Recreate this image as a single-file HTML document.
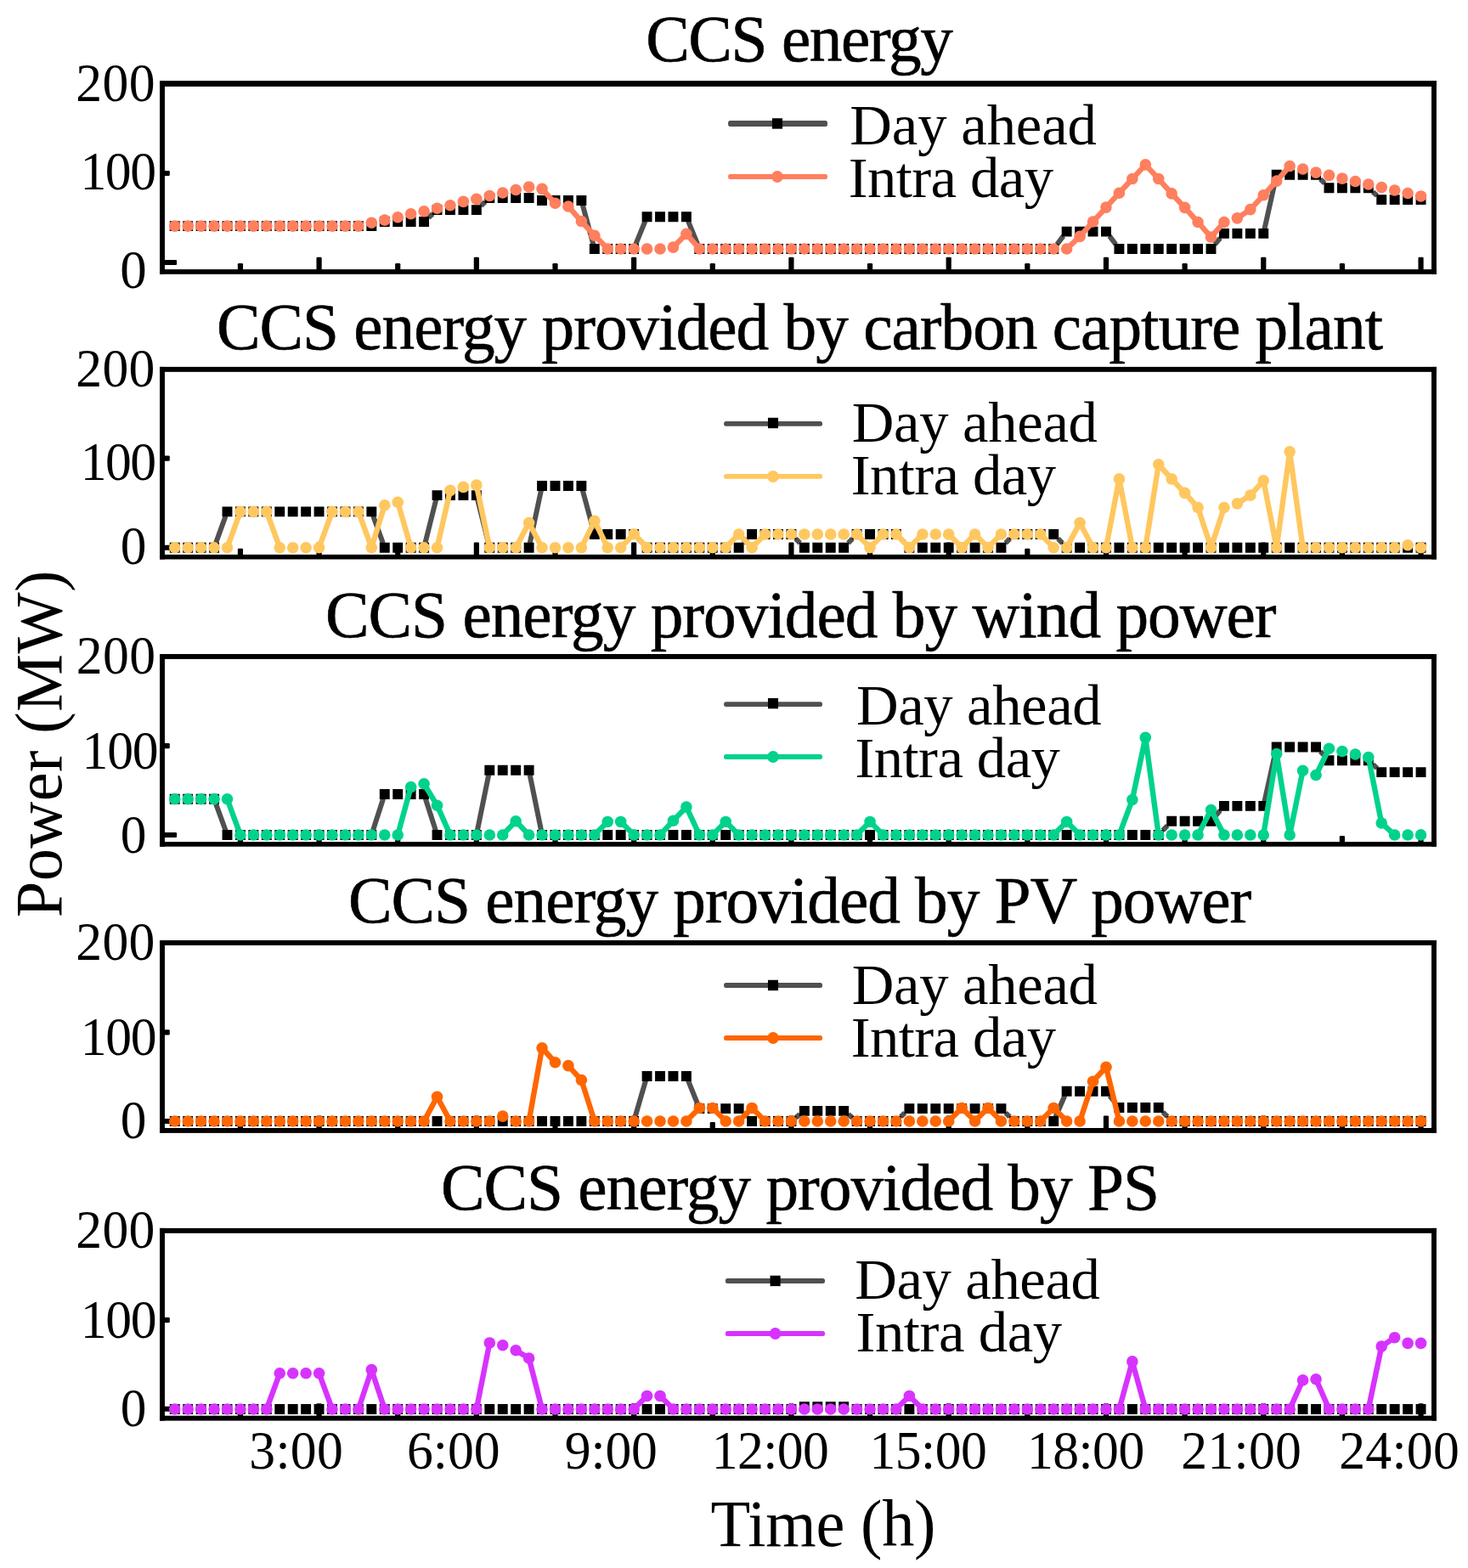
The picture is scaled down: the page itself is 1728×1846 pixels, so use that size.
<!DOCTYPE html>
<html lang="en">
<head>
<meta charset="utf-8">
<title>CCS energy</title>
<style>
html,body{margin:0;padding:0;background:#fff}
body{width:1728px;height:1846px;overflow:hidden}
svg{display:block}
text{font-family:"Liberation Serif",serif;fill:#000}
</style>
</head>
<body>
<svg width="1728" height="1846" viewBox="0 0 1728 1846" role="img" aria-label="CCS energy: day ahead versus intra day">
<rect width="1728" height="1846" fill="#fff"/>
<g>
<g fill="#000"><rect x="279.84" y="310" width="6.2" height="8.1" rx="1.2"/><rect x="372.48" y="302.7" width="6.2" height="15.4" rx="1.2"/><rect x="465.12" y="310" width="6.2" height="8.1" rx="1.2"/><rect x="557.76" y="302.7" width="6.2" height="15.4" rx="1.2"/><rect x="650.4" y="310" width="6.2" height="8.1" rx="1.2"/><rect x="743.04" y="302.7" width="6.2" height="15.4" rx="1.2"/><rect x="835.68" y="310" width="6.2" height="8.1" rx="1.2"/><rect x="928.32" y="302.7" width="6.2" height="15.4" rx="1.2"/><rect x="1020.96" y="310" width="6.2" height="8.1" rx="1.2"/><rect x="1113.6" y="302.7" width="6.2" height="15.4" rx="1.2"/><rect x="1206.24" y="310" width="6.2" height="8.1" rx="1.2"/><rect x="1298.88" y="302.7" width="6.2" height="15.4" rx="1.2"/><rect x="1391.52" y="310" width="6.2" height="8.1" rx="1.2"/><rect x="1484.16" y="302.7" width="6.2" height="15.4" rx="1.2"/><rect x="1576.8" y="310" width="6.2" height="8.1" rx="1.2"/><rect x="1669.44" y="302.7" width="6.2" height="15.4" rx="1.2"/><rect x="192.96" y="305.95" width="15.14" height="6.1" rx="1.2"/><rect x="192.96" y="200.95" width="6.84" height="6.1" rx="1.2"/></g>
<path d="M504.35 256.3L509.29 251.85M566.11 242.33L571.05 237.81M685.8 241.27L698.4 287.71M748.29 287.71L759.43 260.48M810.05 260.48L821.19 287.71M1244.2 287.71L1251.68 277.84M1305.96 277.84L1313.44 287.71M1429.99 287.71L1436.45 280.16M1488.43 269.66L1501.53 210.94M1554.25 210.94L1559.23 215.95M1616.03 225.93L1620.97 230.37" stroke="#505050" stroke-width="6" fill="none"/>
<path d="M199.79 260.16h11.9v11.9h-11.9zM215.23 260.16h11.9v11.9h-11.9zM230.67 260.16h11.9v11.9h-11.9zM246.11 260.16h11.9v11.9h-11.9zM261.55 260.16h11.9v11.9h-11.9zM276.99 260.16h11.9v11.9h-11.9zM292.43 260.16h11.9v11.9h-11.9zM307.87 260.16h11.9v11.9h-11.9zM323.31 260.16h11.9v11.9h-11.9zM338.75 260.16h11.9v11.9h-11.9zM354.19 260.16h11.9v11.9h-11.9zM369.63 260.16h11.9v11.9h-11.9zM385.07 260.16h11.9v11.9h-11.9zM400.51 260.16h11.9v11.9h-11.9zM415.95 260.16h11.9v11.9h-11.9zM431.39 260.16h11.9v11.9h-11.9zM446.83 255.07h11.9v11.9h-11.9zM462.27 255.07h11.9v11.9h-11.9zM477.71 255.07h11.9v11.9h-11.9zM493.15 255.07h11.9v11.9h-11.9zM508.59 241.18h11.9v11.9h-11.9zM524.03 241.18h11.9v11.9h-11.9zM539.47 241.18h11.9v11.9h-11.9zM554.91 241.18h11.9v11.9h-11.9zM570.35 227.06h11.9v11.9h-11.9zM585.79 227.06h11.9v11.9h-11.9zM601.23 227.06h11.9v11.9h-11.9zM616.67 227.06h11.9v11.9h-11.9zM632.11 230.07h11.9v11.9h-11.9zM647.55 230.07h11.9v11.9h-11.9zM662.99 230.07h11.9v11.9h-11.9zM678.43 230.07h11.9v11.9h-11.9zM693.87 287.01h11.9v11.9h-11.9zM709.31 287.01h11.9v11.9h-11.9zM724.75 287.01h11.9v11.9h-11.9zM740.19 287.01h11.9v11.9h-11.9zM755.63 249.28h11.9v11.9h-11.9zM771.07 249.28h11.9v11.9h-11.9zM786.51 249.28h11.9v11.9h-11.9zM801.95 249.28h11.9v11.9h-11.9zM817.39 287.01h11.9v11.9h-11.9zM832.83 287.01h11.9v11.9h-11.9zM848.27 287.01h11.9v11.9h-11.9zM863.71 287.01h11.9v11.9h-11.9zM879.15 287.01h11.9v11.9h-11.9zM894.59 287.01h11.9v11.9h-11.9zM910.03 287.01h11.9v11.9h-11.9zM925.47 287.01h11.9v11.9h-11.9zM940.91 287.01h11.9v11.9h-11.9zM956.35 287.01h11.9v11.9h-11.9zM971.79 287.01h11.9v11.9h-11.9zM987.23 287.01h11.9v11.9h-11.9zM1002.67 287.01h11.9v11.9h-11.9zM1018.11 287.01h11.9v11.9h-11.9zM1033.55 287.01h11.9v11.9h-11.9zM1048.99 287.01h11.9v11.9h-11.9zM1064.43 287.01h11.9v11.9h-11.9zM1079.87 287.01h11.9v11.9h-11.9zM1095.31 287.01h11.9v11.9h-11.9zM1110.75 287.01h11.9v11.9h-11.9zM1126.19 287.01h11.9v11.9h-11.9zM1141.63 287.01h11.9v11.9h-11.9zM1157.07 287.01h11.9v11.9h-11.9zM1172.51 287.01h11.9v11.9h-11.9zM1187.95 287.01h11.9v11.9h-11.9zM1203.39 287.01h11.9v11.9h-11.9zM1218.83 287.01h11.9v11.9h-11.9zM1234.27 287.01h11.9v11.9h-11.9zM1249.71 266.64h11.9v11.9h-11.9zM1265.15 266.64h11.9v11.9h-11.9zM1280.59 266.64h11.9v11.9h-11.9zM1296.03 266.64h11.9v11.9h-11.9zM1311.47 287.01h11.9v11.9h-11.9zM1326.91 287.01h11.9v11.9h-11.9zM1342.35 287.01h11.9v11.9h-11.9zM1357.79 287.01h11.9v11.9h-11.9zM1373.23 287.01h11.9v11.9h-11.9zM1388.67 287.01h11.9v11.9h-11.9zM1404.11 287.01h11.9v11.9h-11.9zM1419.55 287.01h11.9v11.9h-11.9zM1434.99 268.96h11.9v11.9h-11.9zM1450.43 268.96h11.9v11.9h-11.9zM1465.87 268.96h11.9v11.9h-11.9zM1481.31 268.96h11.9v11.9h-11.9zM1496.75 199.74h11.9v11.9h-11.9zM1512.19 199.74h11.9v11.9h-11.9zM1527.63 199.74h11.9v11.9h-11.9zM1543.07 199.74h11.9v11.9h-11.9zM1558.51 215.25h11.9v11.9h-11.9zM1573.95 215.25h11.9v11.9h-11.9zM1589.39 215.25h11.9v11.9h-11.9zM1604.83 215.25h11.9v11.9h-11.9zM1620.27 229.14h11.9v11.9h-11.9zM1635.71 229.14h11.9v11.9h-11.9zM1651.15 229.14h11.9v11.9h-11.9zM1666.59 229.14h11.9v11.9h-11.9z" fill="#000"/>
<path d="M640.76 225.31L650.8 236.31M671.58 245.97L681.74 257.55M687.1 263.49L697.1 274.29M702.62 280.08L712.46 290.11M795.26 288.26L805.1 278.23M810.54 278.38L820.7 289.96M1258.57 290.22L1268.19 281.13M1273.76 275.39L1283.88 264.01M1289.24 258.07L1299.28 247.07M1304.68 241.17L1314.72 230.18M1320.14 224.29L1330.14 213.49M1335.58 207.62L1345.58 196.82M1351.02 196.82L1361.02 207.62M1366.4 213.54L1376.52 224.93M1381.92 230.83L1391.88 241.44M1397.3 247.32L1407.38 258.51M1412.7 264.49L1422.86 276.07M1428.14 276.07L1438.3 264.49M1459.72 254.65L1468.48 248.87M1474.52 243.71L1484.56 232.72M1489.98 226.83L1499.98 216.04M1505.34 210.1L1515.5 198.52" stroke="#FF7F5E" stroke-width="6.4" fill="none"/>
<g fill="#FF7F5E"><circle cx="205.74" cy="266.11" r="6.8"/><circle cx="221.18" cy="266.11" r="6.8"/><circle cx="236.62" cy="266.11" r="6.8"/><circle cx="252.06" cy="266.11" r="6.8"/><circle cx="267.5" cy="266.11" r="6.8"/><circle cx="282.94" cy="266.11" r="6.8"/><circle cx="298.38" cy="266.11" r="6.8"/><circle cx="313.82" cy="266.11" r="6.8"/><circle cx="329.26" cy="266.11" r="6.8"/><circle cx="344.7" cy="266.11" r="6.8"/><circle cx="360.14" cy="266.11" r="6.8"/><circle cx="375.58" cy="266.11" r="6.8"/><circle cx="391.02" cy="266.11" r="6.8"/><circle cx="406.46" cy="266.11" r="6.8"/><circle cx="421.9" cy="266.11" r="6.8"/><circle cx="437.34" cy="262.18" r="6.8"/><circle cx="452.78" cy="259.17" r="6.8"/><circle cx="468.22" cy="255.69" r="6.8"/><circle cx="483.66" cy="251.76" r="6.8"/><circle cx="499.1" cy="248.75" r="6.8"/><circle cx="514.54" cy="245.28" r="6.8"/><circle cx="529.98" cy="241.81" r="6.8"/><circle cx="545.42" cy="237.41" r="6.8"/><circle cx="560.86" cy="234.4" r="6.8"/><circle cx="576.3" cy="230.46" r="6.8"/><circle cx="591.74" cy="226.99" r="6.8"/><circle cx="607.18" cy="223.52" r="6.8"/><circle cx="622.62" cy="220.05" r="6.8"/><circle cx="638.06" cy="222.36" r="6.8"/><circle cx="653.5" cy="239.26" r="6.8"/><circle cx="668.94" cy="242.96" r="6.8"/><circle cx="684.38" cy="260.56" r="6.8"/><circle cx="699.82" cy="277.22" r="6.8"/><circle cx="715.26" cy="292.96" r="6.8"/><circle cx="730.7" cy="292.96" r="6.8"/><circle cx="746.14" cy="292.96" r="6.8"/><circle cx="761.58" cy="292.96" r="6.8"/><circle cx="777.02" cy="292.96" r="6.8"/><circle cx="792.46" cy="291.11" r="6.8"/><circle cx="807.9" cy="275.37" r="6.8"/><circle cx="823.34" cy="292.96" r="6.8"/><circle cx="838.78" cy="292.96" r="6.8"/><circle cx="854.22" cy="292.96" r="6.8"/><circle cx="869.66" cy="292.96" r="6.8"/><circle cx="885.1" cy="292.96" r="6.8"/><circle cx="900.54" cy="292.96" r="6.8"/><circle cx="915.98" cy="292.96" r="6.8"/><circle cx="931.42" cy="292.96" r="6.8"/><circle cx="946.86" cy="292.96" r="6.8"/><circle cx="962.3" cy="292.96" r="6.8"/><circle cx="977.74" cy="292.96" r="6.8"/><circle cx="993.18" cy="292.96" r="6.8"/><circle cx="1008.62" cy="292.96" r="6.8"/><circle cx="1024.06" cy="292.96" r="6.8"/><circle cx="1039.5" cy="292.96" r="6.8"/><circle cx="1054.94" cy="292.96" r="6.8"/><circle cx="1070.38" cy="292.96" r="6.8"/><circle cx="1085.82" cy="292.96" r="6.8"/><circle cx="1101.26" cy="292.96" r="6.8"/><circle cx="1116.7" cy="292.96" r="6.8"/><circle cx="1132.14" cy="292.96" r="6.8"/><circle cx="1147.58" cy="292.96" r="6.8"/><circle cx="1163.02" cy="292.96" r="6.8"/><circle cx="1178.46" cy="292.96" r="6.8"/><circle cx="1193.9" cy="292.96" r="6.8"/><circle cx="1209.34" cy="292.96" r="6.8"/><circle cx="1224.78" cy="292.96" r="6.8"/><circle cx="1240.22" cy="292.96" r="6.8"/><circle cx="1255.66" cy="292.96" r="6.8"/><circle cx="1271.1" cy="278.38" r="6.8"/><circle cx="1286.54" cy="261.02" r="6.8"/><circle cx="1301.98" cy="244.12" r="6.8"/><circle cx="1317.42" cy="227.22" r="6.8"/><circle cx="1332.86" cy="210.56" r="6.8"/><circle cx="1348.3" cy="193.89" r="6.8"/><circle cx="1363.74" cy="210.56" r="6.8"/><circle cx="1379.18" cy="227.92" r="6.8"/><circle cx="1394.62" cy="244.35" r="6.8"/><circle cx="1410.06" cy="261.48" r="6.8"/><circle cx="1425.5" cy="279.07" r="6.8"/><circle cx="1440.94" cy="261.48" r="6.8"/><circle cx="1456.38" cy="256.85" r="6.8"/><circle cx="1471.82" cy="246.67" r="6.8"/><circle cx="1487.26" cy="229.77" r="6.8"/><circle cx="1502.7" cy="213.1" r="6.8"/><circle cx="1518.14" cy="195.51" r="6.8"/><circle cx="1533.58" cy="198.98" r="6.8"/><circle cx="1549.02" cy="203.15" r="6.8"/><circle cx="1564.46" cy="206.39" r="6.8"/><circle cx="1579.9" cy="210.09" r="6.8"/><circle cx="1595.34" cy="213.56" r="6.8"/><circle cx="1610.78" cy="217.04" r="6.8"/><circle cx="1626.22" cy="220.51" r="6.8"/><circle cx="1641.66" cy="223.98" r="6.8"/><circle cx="1657.1" cy="227.45" r="6.8"/><circle cx="1672.54" cy="230.93" r="6.8"/></g>
<g fill="#000"><rect x="188.06" y="95.1" width="1502.84" height="6.8" fill="#000"/><rect x="188.06" y="317.1" width="1502.84" height="5.7" fill="#000"/><rect x="188.06" y="95.1" width="5.9" height="227.7" fill="#000"/><rect x="1685" y="95.1" width="5.9" height="227.7" fill="#000"/></g>
<rect x="857.1" y="142" width="116.9" height="6.9" rx="2.5" fill="#505050"/>
<rect x="908.95" y="139.25" width="12.1" height="12.4" fill="#000"/>
<rect x="857.1" y="205.1" width="116.9" height="5.8" rx="2.5" fill="#FF7F5E"/>
<ellipse cx="915" cy="208" rx="6.8" ry="7" fill="#FF7F5E"/>
<text transform="translate(1000.37 170) scale(1.0150 1)" font-size="67.7" style="letter-spacing:-0.16px">Day ahead</text>
<text transform="translate(998.66 231.8) scale(1.0150 1)" font-size="67.7" style="letter-spacing:-0.56px">Intra day</text>
<text transform="translate(760.13 71.85) scale(0.9900 1)" font-size="78.1" style="letter-spacing:-1.43px;stroke:#000;stroke-width:0.6px;stroke-linejoin:round">CCS energy</text>
<text transform="translate(89.25 118.62) scale(0.9650 1)" font-size="63.9" style="letter-spacing:0.38px">200</text>
<text transform="translate(94.39 222.55) scale(0.9650 1)" font-size="63.9" style="letter-spacing:-1.41px">100</text>
<text transform="translate(141.24 338.6) scale(0.9852 1)" font-size="63.9">0</text>
</g>
<g>
<g fill="#000"><rect x="279.84" y="645.8" width="6.2" height="8.1" rx="1.2"/><rect x="372.48" y="638.5" width="6.2" height="15.4" rx="1.2"/><rect x="465.12" y="645.8" width="6.2" height="8.1" rx="1.2"/><rect x="557.76" y="638.5" width="6.2" height="15.4" rx="1.2"/><rect x="650.4" y="645.8" width="6.2" height="8.1" rx="1.2"/><rect x="743.04" y="638.5" width="6.2" height="15.4" rx="1.2"/><rect x="835.68" y="645.8" width="6.2" height="8.1" rx="1.2"/><rect x="928.32" y="638.5" width="6.2" height="15.4" rx="1.2"/><rect x="1020.96" y="645.8" width="6.2" height="8.1" rx="1.2"/><rect x="1113.6" y="638.5" width="6.2" height="15.4" rx="1.2"/><rect x="1206.24" y="645.8" width="6.2" height="8.1" rx="1.2"/><rect x="1298.88" y="638.5" width="6.2" height="15.4" rx="1.2"/><rect x="1391.52" y="645.8" width="6.2" height="8.1" rx="1.2"/><rect x="1484.16" y="638.5" width="6.2" height="15.4" rx="1.2"/><rect x="1576.8" y="645.8" width="6.2" height="8.1" rx="1.2"/><rect x="1669.44" y="638.5" width="6.2" height="15.4" rx="1.2"/><rect x="192.96" y="641.75" width="15.14" height="6.1" rx="1.2"/><rect x="192.96" y="536.55" width="6.84" height="6.1" rx="1.2"/></g>
<path d="M253.97 639.45L265.59 607.59M439.25 607.59L450.87 639.45M500.42 639.45L513.22 588.38M562.18 588.38L574.98 639.45M623.74 639.45L636.94 577.27M685.8 577.27L698.4 623.71M751.29 634.21L756.43 639.45M874.81 639.45L879.95 634.21M936.57 634.21L941.71 639.45M998.33 639.45L1003.47 634.21M1060.09 634.21L1065.23 639.45M1183.61 639.45L1188.75 634.21M1245.37 634.21L1250.51 639.45" stroke="#505050" stroke-width="6" fill="none"/>
<path d="M199.79 638.75h11.9v11.9h-11.9zM215.23 638.75h11.9v11.9h-11.9zM230.67 638.75h11.9v11.9h-11.9zM246.11 638.75h11.9v11.9h-11.9zM261.55 596.39h11.9v11.9h-11.9zM276.99 596.39h11.9v11.9h-11.9zM292.43 596.39h11.9v11.9h-11.9zM307.87 596.39h11.9v11.9h-11.9zM323.31 596.39h11.9v11.9h-11.9zM338.75 596.39h11.9v11.9h-11.9zM354.19 596.39h11.9v11.9h-11.9zM369.63 596.39h11.9v11.9h-11.9zM385.07 596.39h11.9v11.9h-11.9zM400.51 596.39h11.9v11.9h-11.9zM415.95 596.39h11.9v11.9h-11.9zM431.39 596.39h11.9v11.9h-11.9zM446.83 638.75h11.9v11.9h-11.9zM462.27 638.75h11.9v11.9h-11.9zM477.71 638.75h11.9v11.9h-11.9zM493.15 638.75h11.9v11.9h-11.9zM508.59 577.18h11.9v11.9h-11.9zM524.03 577.18h11.9v11.9h-11.9zM539.47 577.18h11.9v11.9h-11.9zM554.91 577.18h11.9v11.9h-11.9zM570.35 638.75h11.9v11.9h-11.9zM585.79 638.75h11.9v11.9h-11.9zM601.23 638.75h11.9v11.9h-11.9zM616.67 638.75h11.9v11.9h-11.9zM632.11 566.07h11.9v11.9h-11.9zM647.55 566.07h11.9v11.9h-11.9zM662.99 566.07h11.9v11.9h-11.9zM678.43 566.07h11.9v11.9h-11.9zM693.87 623.01h11.9v11.9h-11.9zM709.31 623.01h11.9v11.9h-11.9zM724.75 623.01h11.9v11.9h-11.9zM740.19 623.01h11.9v11.9h-11.9zM755.63 638.75h11.9v11.9h-11.9zM771.07 638.75h11.9v11.9h-11.9zM786.51 638.75h11.9v11.9h-11.9zM801.95 638.75h11.9v11.9h-11.9zM817.39 638.75h11.9v11.9h-11.9zM832.83 638.75h11.9v11.9h-11.9zM848.27 638.75h11.9v11.9h-11.9zM863.71 638.75h11.9v11.9h-11.9zM879.15 623.01h11.9v11.9h-11.9zM894.59 623.01h11.9v11.9h-11.9zM910.03 623.01h11.9v11.9h-11.9zM925.47 623.01h11.9v11.9h-11.9zM940.91 638.75h11.9v11.9h-11.9zM956.35 638.75h11.9v11.9h-11.9zM971.79 638.75h11.9v11.9h-11.9zM987.23 638.75h11.9v11.9h-11.9zM1002.67 623.01h11.9v11.9h-11.9zM1018.11 623.01h11.9v11.9h-11.9zM1033.55 623.01h11.9v11.9h-11.9zM1048.99 623.01h11.9v11.9h-11.9zM1064.43 638.75h11.9v11.9h-11.9zM1079.87 638.75h11.9v11.9h-11.9zM1095.31 638.75h11.9v11.9h-11.9zM1110.75 638.75h11.9v11.9h-11.9zM1126.19 638.75h11.9v11.9h-11.9zM1141.63 638.75h11.9v11.9h-11.9zM1157.07 638.75h11.9v11.9h-11.9zM1172.51 638.75h11.9v11.9h-11.9zM1187.95 623.01h11.9v11.9h-11.9zM1203.39 623.01h11.9v11.9h-11.9zM1218.83 623.01h11.9v11.9h-11.9zM1234.27 623.01h11.9v11.9h-11.9zM1249.71 638.75h11.9v11.9h-11.9zM1265.15 638.75h11.9v11.9h-11.9zM1280.59 638.75h11.9v11.9h-11.9zM1296.03 638.75h11.9v11.9h-11.9zM1311.47 638.75h11.9v11.9h-11.9zM1326.91 638.75h11.9v11.9h-11.9zM1342.35 638.75h11.9v11.9h-11.9zM1357.79 638.75h11.9v11.9h-11.9zM1373.23 638.75h11.9v11.9h-11.9zM1388.67 638.75h11.9v11.9h-11.9zM1404.11 638.75h11.9v11.9h-11.9zM1419.55 638.75h11.9v11.9h-11.9zM1434.99 638.75h11.9v11.9h-11.9zM1450.43 638.75h11.9v11.9h-11.9zM1465.87 638.75h11.9v11.9h-11.9zM1481.31 638.75h11.9v11.9h-11.9zM1496.75 638.75h11.9v11.9h-11.9zM1512.19 638.75h11.9v11.9h-11.9zM1527.63 638.75h11.9v11.9h-11.9zM1543.07 638.75h11.9v11.9h-11.9zM1558.51 638.75h11.9v11.9h-11.9zM1573.95 638.75h11.9v11.9h-11.9zM1589.39 638.75h11.9v11.9h-11.9zM1604.83 638.75h11.9v11.9h-11.9zM1620.27 638.75h11.9v11.9h-11.9zM1635.71 638.75h11.9v11.9h-11.9zM1651.15 638.75h11.9v11.9h-11.9zM1666.59 638.75h11.9v11.9h-11.9z" fill="#000"/>
<path d="M268.87 640.95L281.57 606.1M315.19 606.1L327.89 640.95M376.95 640.95L389.65 606.1M423.27 606.1L435.97 640.95M438.52 640.88L451.6 598.53M469.33 595.07L482.55 640.86M515.43 640.8L529.09 581.24M561.68 575.01L575.48 640.79M609.05 641.17L620.75 619.07M624.49 619.07L636.19 641.17M686.14 641.11L698.06 616.81M701.58 616.81L713.5 641.11M733.48 641.83L743.36 631.61M748.92 631.61L758.8 641.83M857.02 641.85L866.86 631.82M872.46 631.82L882.3 641.85M887.9 641.85L897.74 631.82M1011.42 631.82L1021.26 641.85M1026.86 641.85L1036.7 631.82M1057.74 631.82L1067.58 641.85M1073.18 641.85L1083.02 631.82M1119.5 631.82L1129.34 641.85M1134.94 641.85L1144.78 631.82M1150.38 631.82L1160.22 641.85M1165.82 641.85L1175.66 631.82M1227.58 631.82L1237.42 641.85M1257.53 641.17L1269.23 619.07M1272.97 619.07L1284.67 641.17M1302.73 640.77L1316.67 567.85M1318.17 567.85L1332.11 640.77M1348.92 640.75L1363.12 550.74M1366.42 549.76L1376.5 560.95M1381.92 566.83L1391.88 577.44M1397.3 583.32L1407.38 594.51M1411.3 601.28L1424.26 640.9M1426.74 640.9L1439.7 601.28M1459.76 590.72L1468.44 585.26M1474.48 580.14L1484.6 568.76M1488.03 569.69L1501.93 640.78M1503.24 640.74L1517.6 535.7M1518.68 535.7L1533.04 640.74" stroke="#FFC75F" stroke-width="6.4" fill="none"/>
<g fill="#FFC75F"><circle cx="205.74" cy="644.7" r="6.8"/><circle cx="221.18" cy="644.7" r="6.8"/><circle cx="236.62" cy="644.7" r="6.8"/><circle cx="252.06" cy="644.7" r="6.8"/><circle cx="267.5" cy="644.7" r="6.8"/><circle cx="282.94" cy="602.34" r="6.8"/><circle cx="298.38" cy="602.34" r="6.8"/><circle cx="313.82" cy="602.34" r="6.8"/><circle cx="329.26" cy="644.7" r="6.8"/><circle cx="344.7" cy="644.7" r="6.8"/><circle cx="360.14" cy="644.7" r="6.8"/><circle cx="375.58" cy="644.7" r="6.8"/><circle cx="391.02" cy="602.34" r="6.8"/><circle cx="406.46" cy="602.34" r="6.8"/><circle cx="421.9" cy="602.34" r="6.8"/><circle cx="437.34" cy="644.7" r="6.8"/><circle cx="452.78" cy="594.7" r="6.8"/><circle cx="468.22" cy="591.23" r="6.8"/><circle cx="483.66" cy="644.7" r="6.8"/><circle cx="499.1" cy="644.7" r="6.8"/><circle cx="514.54" cy="644.7" r="6.8"/><circle cx="529.98" cy="577.34" r="6.8"/><circle cx="545.42" cy="573.41" r="6.8"/><circle cx="560.86" cy="571.09" r="6.8"/><circle cx="576.3" cy="644.7" r="6.8"/><circle cx="591.74" cy="644.7" r="6.8"/><circle cx="607.18" cy="644.7" r="6.8"/><circle cx="622.62" cy="615.54" r="6.8"/><circle cx="638.06" cy="644.7" r="6.8"/><circle cx="653.5" cy="644.7" r="6.8"/><circle cx="668.94" cy="644.7" r="6.8"/><circle cx="684.38" cy="644.7" r="6.8"/><circle cx="699.82" cy="613.22" r="6.8"/><circle cx="715.26" cy="644.7" r="6.8"/><circle cx="730.7" cy="644.7" r="6.8"/><circle cx="746.14" cy="628.73" r="6.8"/><circle cx="761.58" cy="644.7" r="6.8"/><circle cx="777.02" cy="644.7" r="6.8"/><circle cx="792.46" cy="644.7" r="6.8"/><circle cx="807.9" cy="644.7" r="6.8"/><circle cx="823.34" cy="644.7" r="6.8"/><circle cx="838.78" cy="644.7" r="6.8"/><circle cx="854.22" cy="644.7" r="6.8"/><circle cx="869.66" cy="628.96" r="6.8"/><circle cx="885.1" cy="644.7" r="6.8"/><circle cx="900.54" cy="628.96" r="6.8"/><circle cx="915.98" cy="628.96" r="6.8"/><circle cx="931.42" cy="628.96" r="6.8"/><circle cx="946.86" cy="628.96" r="6.8"/><circle cx="962.3" cy="628.96" r="6.8"/><circle cx="977.74" cy="628.96" r="6.8"/><circle cx="993.18" cy="628.96" r="6.8"/><circle cx="1008.62" cy="628.96" r="6.8"/><circle cx="1024.06" cy="644.7" r="6.8"/><circle cx="1039.5" cy="628.96" r="6.8"/><circle cx="1054.94" cy="628.96" r="6.8"/><circle cx="1070.38" cy="644.7" r="6.8"/><circle cx="1085.82" cy="628.96" r="6.8"/><circle cx="1101.26" cy="628.96" r="6.8"/><circle cx="1116.7" cy="628.96" r="6.8"/><circle cx="1132.14" cy="644.7" r="6.8"/><circle cx="1147.58" cy="628.96" r="6.8"/><circle cx="1163.02" cy="644.7" r="6.8"/><circle cx="1178.46" cy="628.96" r="6.8"/><circle cx="1193.9" cy="628.96" r="6.8"/><circle cx="1209.34" cy="628.96" r="6.8"/><circle cx="1224.78" cy="628.96" r="6.8"/><circle cx="1240.22" cy="644.7" r="6.8"/><circle cx="1255.66" cy="644.7" r="6.8"/><circle cx="1271.1" cy="615.54" r="6.8"/><circle cx="1286.54" cy="644.7" r="6.8"/><circle cx="1301.98" cy="644.7" r="6.8"/><circle cx="1317.42" cy="563.92" r="6.8"/><circle cx="1332.86" cy="644.7" r="6.8"/><circle cx="1348.3" cy="644.7" r="6.8"/><circle cx="1363.74" cy="546.79" r="6.8"/><circle cx="1379.18" cy="563.92" r="6.8"/><circle cx="1394.62" cy="580.35" r="6.8"/><circle cx="1410.06" cy="597.48" r="6.8"/><circle cx="1425.5" cy="644.7" r="6.8"/><circle cx="1440.94" cy="597.48" r="6.8"/><circle cx="1456.38" cy="592.85" r="6.8"/><circle cx="1471.82" cy="583.13" r="6.8"/><circle cx="1487.26" cy="565.77" r="6.8"/><circle cx="1502.7" cy="644.7" r="6.8"/><circle cx="1518.14" cy="531.74" r="6.8"/><circle cx="1533.58" cy="644.7" r="6.8"/><circle cx="1549.02" cy="644.7" r="6.8"/><circle cx="1564.46" cy="644.7" r="6.8"/><circle cx="1579.9" cy="644.7" r="6.8"/><circle cx="1595.34" cy="644.7" r="6.8"/><circle cx="1610.78" cy="644.7" r="6.8"/><circle cx="1626.22" cy="644.7" r="6.8"/><circle cx="1641.66" cy="644.7" r="6.8"/><circle cx="1657.1" cy="641.69" r="6.8"/><circle cx="1672.54" cy="644.7" r="6.8"/></g>
<g fill="#000"><rect x="188.06" y="431.9" width="1502.84" height="5.95" fill="#000"/><rect x="188.06" y="652.9" width="1502.84" height="5.6" fill="#000"/><rect x="188.06" y="431.9" width="5.9" height="226.6" fill="#000"/><rect x="1685" y="431.9" width="5.9" height="226.6" fill="#000"/></g>
<rect x="852.1" y="496" width="115.9" height="5.8" rx="2.5" fill="#505050"/>
<rect x="903.95" y="491.8" width="12.1" height="12.4" fill="#000"/>
<rect x="852.1" y="558.05" width="115.9" height="5.8" rx="2.5" fill="#FFC75F"/>
<ellipse cx="910" cy="560.95" rx="6.8" ry="7" fill="#FFC75F"/>
<text transform="translate(1002.67 520) scale(1.0150 1)" font-size="67.7" style="letter-spacing:-0.31px">Day ahead</text>
<text transform="translate(1001.66 581.8) scale(1.0150 1)" font-size="67.7" style="letter-spacing:-0.56px">Intra day</text>
<text transform="translate(254.88 410.95) scale(0.9900 1)" font-size="78.1" style="letter-spacing:-1.02px;stroke:#000;stroke-width:0.6px;stroke-linejoin:round">CCS energy provided by carbon capture plant</text>
<text transform="translate(89.35 454.6) scale(0.9650 1)" font-size="63.9" style="letter-spacing:0.22px">200</text>
<text transform="translate(94.69 565.45) scale(0.9650 1)" font-size="63.9" style="letter-spacing:-1.56px">100</text>
<text transform="translate(141.7 664.35) scale(0.9593 1)" font-size="63.9">0</text>
</g>
<g>
<g fill="#000"><rect x="279.84" y="984" width="6.2" height="8.1" rx="1.2"/><rect x="372.48" y="976.7" width="6.2" height="15.4" rx="1.2"/><rect x="465.12" y="984" width="6.2" height="8.1" rx="1.2"/><rect x="557.76" y="976.7" width="6.2" height="15.4" rx="1.2"/><rect x="650.4" y="984" width="6.2" height="8.1" rx="1.2"/><rect x="743.04" y="976.7" width="6.2" height="15.4" rx="1.2"/><rect x="835.68" y="984" width="6.2" height="8.1" rx="1.2"/><rect x="928.32" y="976.7" width="6.2" height="15.4" rx="1.2"/><rect x="1020.96" y="984" width="6.2" height="8.1" rx="1.2"/><rect x="1113.6" y="976.7" width="6.2" height="15.4" rx="1.2"/><rect x="1206.24" y="984" width="6.2" height="8.1" rx="1.2"/><rect x="1298.88" y="976.7" width="6.2" height="15.4" rx="1.2"/><rect x="1391.52" y="984" width="6.2" height="8.1" rx="1.2"/><rect x="1484.16" y="976.7" width="6.2" height="15.4" rx="1.2"/><rect x="1576.8" y="984" width="6.2" height="8.1" rx="1.2"/><rect x="1669.44" y="976.7" width="6.2" height="15.4" rx="1.2"/><rect x="192.96" y="979.95" width="15.14" height="6.1" rx="1.2"/><rect x="192.96" y="875.05" width="6.84" height="6.1" rx="1.2"/></g>
<path d="M253.98 946.06L265.58 977.69M439.03 977.69L451.09 940.27M500.79 940.27L512.85 977.69M561.92 977.69L575.24 912.03M623.68 912.03L637 977.69M1368.74 977.69L1374.18 971.98M1430.05 961.48L1436.39 954.16M1488.43 943.66L1501.53 884.71M1554.17 884.71L1559.31 889.95M1616.03 899.93L1620.97 904.37" stroke="#505050" stroke-width="6" fill="none"/>
<path d="M199.79 934.86h11.9v11.9h-11.9zM215.23 934.86h11.9v11.9h-11.9zM230.67 934.86h11.9v11.9h-11.9zM246.11 934.86h11.9v11.9h-11.9zM261.55 976.99h11.9v11.9h-11.9zM276.99 976.99h11.9v11.9h-11.9zM292.43 976.99h11.9v11.9h-11.9zM307.87 976.99h11.9v11.9h-11.9zM323.31 976.99h11.9v11.9h-11.9zM338.75 976.99h11.9v11.9h-11.9zM354.19 976.99h11.9v11.9h-11.9zM369.63 976.99h11.9v11.9h-11.9zM385.07 976.99h11.9v11.9h-11.9zM400.51 976.99h11.9v11.9h-11.9zM415.95 976.99h11.9v11.9h-11.9zM431.39 976.99h11.9v11.9h-11.9zM446.83 929.07h11.9v11.9h-11.9zM462.27 929.07h11.9v11.9h-11.9zM477.71 929.07h11.9v11.9h-11.9zM493.15 929.07h11.9v11.9h-11.9zM508.59 976.99h11.9v11.9h-11.9zM524.03 976.99h11.9v11.9h-11.9zM539.47 976.99h11.9v11.9h-11.9zM554.91 976.99h11.9v11.9h-11.9zM570.35 900.83h11.9v11.9h-11.9zM585.79 900.83h11.9v11.9h-11.9zM601.23 900.83h11.9v11.9h-11.9zM616.67 900.83h11.9v11.9h-11.9zM632.11 976.99h11.9v11.9h-11.9zM647.55 976.99h11.9v11.9h-11.9zM662.99 976.99h11.9v11.9h-11.9zM678.43 976.99h11.9v11.9h-11.9zM693.87 976.99h11.9v11.9h-11.9zM709.31 976.99h11.9v11.9h-11.9zM724.75 976.99h11.9v11.9h-11.9zM740.19 976.99h11.9v11.9h-11.9zM755.63 976.99h11.9v11.9h-11.9zM771.07 976.99h11.9v11.9h-11.9zM786.51 976.99h11.9v11.9h-11.9zM801.95 976.99h11.9v11.9h-11.9zM817.39 976.99h11.9v11.9h-11.9zM832.83 976.99h11.9v11.9h-11.9zM848.27 976.99h11.9v11.9h-11.9zM863.71 976.99h11.9v11.9h-11.9zM879.15 976.99h11.9v11.9h-11.9zM894.59 976.99h11.9v11.9h-11.9zM910.03 976.99h11.9v11.9h-11.9zM925.47 976.99h11.9v11.9h-11.9zM940.91 976.99h11.9v11.9h-11.9zM956.35 976.99h11.9v11.9h-11.9zM971.79 976.99h11.9v11.9h-11.9zM987.23 976.99h11.9v11.9h-11.9zM1002.67 976.99h11.9v11.9h-11.9zM1018.11 976.99h11.9v11.9h-11.9zM1033.55 976.99h11.9v11.9h-11.9zM1048.99 976.99h11.9v11.9h-11.9zM1064.43 976.99h11.9v11.9h-11.9zM1079.87 976.99h11.9v11.9h-11.9zM1095.31 976.99h11.9v11.9h-11.9zM1110.75 976.99h11.9v11.9h-11.9zM1126.19 976.99h11.9v11.9h-11.9zM1141.63 976.99h11.9v11.9h-11.9zM1157.07 976.99h11.9v11.9h-11.9zM1172.51 976.99h11.9v11.9h-11.9zM1187.95 976.99h11.9v11.9h-11.9zM1203.39 976.99h11.9v11.9h-11.9zM1218.83 976.99h11.9v11.9h-11.9zM1234.27 976.99h11.9v11.9h-11.9zM1249.71 976.99h11.9v11.9h-11.9zM1265.15 976.99h11.9v11.9h-11.9zM1280.59 976.99h11.9v11.9h-11.9zM1296.03 976.99h11.9v11.9h-11.9zM1311.47 976.99h11.9v11.9h-11.9zM1326.91 976.99h11.9v11.9h-11.9zM1342.35 976.99h11.9v11.9h-11.9zM1357.79 976.99h11.9v11.9h-11.9zM1373.23 960.78h11.9v11.9h-11.9zM1388.67 960.78h11.9v11.9h-11.9zM1404.11 960.78h11.9v11.9h-11.9zM1419.55 960.78h11.9v11.9h-11.9zM1434.99 942.96h11.9v11.9h-11.9zM1450.43 942.96h11.9v11.9h-11.9zM1465.87 942.96h11.9v11.9h-11.9zM1481.31 942.96h11.9v11.9h-11.9zM1496.75 873.51h11.9v11.9h-11.9zM1512.19 873.51h11.9v11.9h-11.9zM1527.63 873.51h11.9v11.9h-11.9zM1543.07 873.51h11.9v11.9h-11.9zM1558.51 889.25h11.9v11.9h-11.9zM1573.95 889.25h11.9v11.9h-11.9zM1589.39 889.25h11.9v11.9h-11.9zM1604.83 889.25h11.9v11.9h-11.9zM1620.27 903.14h11.9v11.9h-11.9zM1635.71 903.14h11.9v11.9h-11.9zM1651.15 903.14h11.9v11.9h-11.9zM1666.59 903.14h11.9v11.9h-11.9z" fill="#000"/>
<path d="M268.88 944.56L281.56 979.18M469.27 979.08L482.61 930.31M501.17 926.17L512.47 944.79M516.17 951.87L528.35 979.28M594.5 980.04L604.42 969.63M609.94 969.63L619.86 980.04M702.64 980.1L712.44 970.26M733.52 970.26L743.32 980.1M779.74 980L789.74 969.2M795.22 963.37L805.14 952.96M809.6 953.69L821.64 979.31M841.6 980.1L851.4 970.26M857.04 970.26L866.84 980.1M1011.44 980.1L1021.24 970.26M1026.88 970.26L1036.68 980.1M1243.04 980.1L1252.84 970.26M1258.48 970.26L1268.28 980.1M1318.82 979.19L1331.46 945.25M1333.69 937.59L1347.47 872.27M1348.83 872.32L1363.21 978.97M1411.92 979.39L1423.64 957.08M1427.36 957.08L1439.08 979.39M1487.9 978.99L1502.06 891.51M1503.34 891.51L1517.5 978.99M1518.94 979.02L1532.78 911.16M1550.79 908.98L1562.69 884.9M1611.56 895.42L1625.44 965.12M1629.19 971.72L1638.69 980.26" stroke="#00D28C" stroke-width="6.4" fill="none"/>
<g fill="#00D28C"><circle cx="205.74" cy="940.81" r="6.8"/><circle cx="221.18" cy="940.81" r="6.8"/><circle cx="236.62" cy="940.81" r="6.8"/><circle cx="252.06" cy="940.81" r="6.8"/><circle cx="267.5" cy="940.81" r="6.8"/><circle cx="282.94" cy="982.94" r="6.8"/><circle cx="298.38" cy="982.94" r="6.8"/><circle cx="313.82" cy="982.94" r="6.8"/><circle cx="329.26" cy="982.94" r="6.8"/><circle cx="344.7" cy="982.94" r="6.8"/><circle cx="360.14" cy="982.94" r="6.8"/><circle cx="375.58" cy="982.94" r="6.8"/><circle cx="391.02" cy="982.94" r="6.8"/><circle cx="406.46" cy="982.94" r="6.8"/><circle cx="421.9" cy="982.94" r="6.8"/><circle cx="437.34" cy="982.94" r="6.8"/><circle cx="452.78" cy="982.94" r="6.8"/><circle cx="468.22" cy="982.94" r="6.8"/><circle cx="483.66" cy="926.45" r="6.8"/><circle cx="499.1" cy="922.75" r="6.8"/><circle cx="514.54" cy="948.21" r="6.8"/><circle cx="529.98" cy="982.94" r="6.8"/><circle cx="545.42" cy="982.94" r="6.8"/><circle cx="560.86" cy="982.94" r="6.8"/><circle cx="576.3" cy="982.94" r="6.8"/><circle cx="591.74" cy="982.94" r="6.8"/><circle cx="607.18" cy="966.73" r="6.8"/><circle cx="622.62" cy="982.94" r="6.8"/><circle cx="638.06" cy="982.94" r="6.8"/><circle cx="653.5" cy="982.94" r="6.8"/><circle cx="668.94" cy="982.94" r="6.8"/><circle cx="684.38" cy="982.94" r="6.8"/><circle cx="699.82" cy="982.94" r="6.8"/><circle cx="715.26" cy="967.43" r="6.8"/><circle cx="730.7" cy="967.43" r="6.8"/><circle cx="746.14" cy="982.94" r="6.8"/><circle cx="761.58" cy="982.94" r="6.8"/><circle cx="777.02" cy="982.94" r="6.8"/><circle cx="792.46" cy="966.27" r="6.8"/><circle cx="807.9" cy="950.06" r="6.8"/><circle cx="823.34" cy="982.94" r="6.8"/><circle cx="838.78" cy="982.94" r="6.8"/><circle cx="854.22" cy="967.43" r="6.8"/><circle cx="869.66" cy="982.94" r="6.8"/><circle cx="885.1" cy="982.94" r="6.8"/><circle cx="900.54" cy="982.94" r="6.8"/><circle cx="915.98" cy="982.94" r="6.8"/><circle cx="931.42" cy="982.94" r="6.8"/><circle cx="946.86" cy="982.94" r="6.8"/><circle cx="962.3" cy="982.94" r="6.8"/><circle cx="977.74" cy="982.94" r="6.8"/><circle cx="993.18" cy="982.94" r="6.8"/><circle cx="1008.62" cy="982.94" r="6.8"/><circle cx="1024.06" cy="967.43" r="6.8"/><circle cx="1039.5" cy="982.94" r="6.8"/><circle cx="1054.94" cy="982.94" r="6.8"/><circle cx="1070.38" cy="982.94" r="6.8"/><circle cx="1085.82" cy="982.94" r="6.8"/><circle cx="1101.26" cy="982.94" r="6.8"/><circle cx="1116.7" cy="982.94" r="6.8"/><circle cx="1132.14" cy="982.94" r="6.8"/><circle cx="1147.58" cy="982.94" r="6.8"/><circle cx="1163.02" cy="982.94" r="6.8"/><circle cx="1178.46" cy="982.94" r="6.8"/><circle cx="1193.9" cy="982.94" r="6.8"/><circle cx="1209.34" cy="982.94" r="6.8"/><circle cx="1224.78" cy="982.94" r="6.8"/><circle cx="1240.22" cy="982.94" r="6.8"/><circle cx="1255.66" cy="967.43" r="6.8"/><circle cx="1271.1" cy="982.94" r="6.8"/><circle cx="1286.54" cy="982.94" r="6.8"/><circle cx="1301.98" cy="982.94" r="6.8"/><circle cx="1317.42" cy="982.94" r="6.8"/><circle cx="1332.86" cy="941.5" r="6.8"/><circle cx="1348.3" cy="868.35" r="6.8"/><circle cx="1363.74" cy="982.94" r="6.8"/><circle cx="1379.18" cy="982.94" r="6.8"/><circle cx="1394.62" cy="982.94" r="6.8"/><circle cx="1410.06" cy="982.94" r="6.8"/><circle cx="1425.5" cy="953.54" r="6.8"/><circle cx="1440.94" cy="982.94" r="6.8"/><circle cx="1456.38" cy="982.94" r="6.8"/><circle cx="1471.82" cy="982.94" r="6.8"/><circle cx="1487.26" cy="982.94" r="6.8"/><circle cx="1502.7" cy="887.56" r="6.8"/><circle cx="1518.14" cy="982.94" r="6.8"/><circle cx="1533.58" cy="907.24" r="6.8"/><circle cx="1549.02" cy="912.56" r="6.8"/><circle cx="1564.46" cy="881.31" r="6.8"/><circle cx="1579.9" cy="884.56" r="6.8"/><circle cx="1595.34" cy="888.03" r="6.8"/><circle cx="1610.78" cy="891.5" r="6.8"/><circle cx="1626.22" cy="969.05" r="6.8"/><circle cx="1641.66" cy="982.94" r="6.8"/><circle cx="1657.1" cy="982.94" r="6.8"/><circle cx="1672.54" cy="982.94" r="6.8"/></g>
<g fill="#000"><rect x="188.06" y="770" width="1502.84" height="5.9" fill="#000"/><rect x="188.06" y="991.1" width="1502.84" height="5.6" fill="#000"/><rect x="188.06" y="770" width="5.9" height="226.7" fill="#000"/><rect x="1685" y="770" width="5.9" height="226.7" fill="#000"/></g>
<rect x="852.1" y="826.15" width="115.9" height="5.8" rx="2.5" fill="#505050"/>
<rect x="903.95" y="821.9" width="12.1" height="12.4" fill="#000"/>
<rect x="852.1" y="888" width="115.9" height="6" rx="2.5" fill="#00D28C"/>
<ellipse cx="910" cy="891" rx="6.8" ry="7" fill="#00D28C"/>
<text transform="translate(1007.97 852.9) scale(1.0150 1)" font-size="67.7" style="letter-spacing:-0.38px">Day ahead</text>
<text transform="translate(1006.56 914.7) scale(1.0150 1)" font-size="67.7" style="letter-spacing:-0.58px">Intra day</text>
<text transform="translate(382.93 750.15) scale(0.9900 1)" font-size="78.1" style="letter-spacing:-1.01px;stroke:#000;stroke-width:0.6px;stroke-linejoin:round">CCS energy provided by wind power</text>
<text transform="translate(89.65 793.45) scale(0.9650 1)" font-size="63.9" style="letter-spacing:0.43px">200</text>
<text transform="translate(96.59 904.55) scale(0.9650 1)" font-size="63.9" style="letter-spacing:-1.31px">100</text>
<text transform="translate(141.7 1003.5) scale(0.9593 1)" font-size="63.9">0</text>
</g>
<g>
<g fill="#000"><rect x="279.84" y="1320.9" width="6.2" height="8.1" rx="1.2"/><rect x="372.48" y="1313.6" width="6.2" height="15.4" rx="1.2"/><rect x="465.12" y="1320.9" width="6.2" height="8.1" rx="1.2"/><rect x="557.76" y="1313.6" width="6.2" height="15.4" rx="1.2"/><rect x="650.4" y="1320.9" width="6.2" height="8.1" rx="1.2"/><rect x="743.04" y="1313.6" width="6.2" height="15.4" rx="1.2"/><rect x="835.68" y="1320.9" width="6.2" height="8.1" rx="1.2"/><rect x="928.32" y="1313.6" width="6.2" height="15.4" rx="1.2"/><rect x="1020.96" y="1320.9" width="6.2" height="8.1" rx="1.2"/><rect x="1113.6" y="1313.6" width="6.2" height="15.4" rx="1.2"/><rect x="1206.24" y="1320.9" width="6.2" height="8.1" rx="1.2"/><rect x="1298.88" y="1313.6" width="6.2" height="15.4" rx="1.2"/><rect x="1391.52" y="1320.9" width="6.2" height="8.1" rx="1.2"/><rect x="1484.16" y="1313.6" width="6.2" height="15.4" rx="1.2"/><rect x="1576.8" y="1320.9" width="6.2" height="8.1" rx="1.2"/><rect x="1669.44" y="1313.6" width="6.2" height="15.4" rx="1.2"/><rect x="192.96" y="1316.95" width="15.14" height="6.1" rx="1.2"/><rect x="192.96" y="1212.35" width="6.84" height="6.1" rx="1.2"/></g>
<path d="M747.67 1314.69L760.05 1272.18M810.02 1272.18L821.22 1299.87M874.91 1310.16L879.85 1314.9M936.67 1315.84L941.61 1311.99M998.43 1311.99L1003.37 1315.84M1060.19 1314.9L1065.13 1310.16M1183.71 1310.16L1188.65 1314.9M1242.52 1314.69L1253.36 1290M1306.2 1290L1313.2 1298.71M1368.82 1309.21L1374.1 1314.69" stroke="#505050" stroke-width="6" fill="none"/>
<path d="M199.79 1313.99h11.9v11.9h-11.9zM215.23 1313.99h11.9v11.9h-11.9zM230.67 1313.99h11.9v11.9h-11.9zM246.11 1313.99h11.9v11.9h-11.9zM261.55 1313.99h11.9v11.9h-11.9zM276.99 1313.99h11.9v11.9h-11.9zM292.43 1313.99h11.9v11.9h-11.9zM307.87 1313.99h11.9v11.9h-11.9zM323.31 1313.99h11.9v11.9h-11.9zM338.75 1313.99h11.9v11.9h-11.9zM354.19 1313.99h11.9v11.9h-11.9zM369.63 1313.99h11.9v11.9h-11.9zM385.07 1313.99h11.9v11.9h-11.9zM400.51 1313.99h11.9v11.9h-11.9zM415.95 1313.99h11.9v11.9h-11.9zM431.39 1313.99h11.9v11.9h-11.9zM446.83 1313.99h11.9v11.9h-11.9zM462.27 1313.99h11.9v11.9h-11.9zM477.71 1313.99h11.9v11.9h-11.9zM493.15 1313.99h11.9v11.9h-11.9zM508.59 1313.99h11.9v11.9h-11.9zM524.03 1313.99h11.9v11.9h-11.9zM539.47 1313.99h11.9v11.9h-11.9zM554.91 1313.99h11.9v11.9h-11.9zM570.35 1313.99h11.9v11.9h-11.9zM585.79 1313.99h11.9v11.9h-11.9zM601.23 1313.99h11.9v11.9h-11.9zM616.67 1313.99h11.9v11.9h-11.9zM632.11 1313.99h11.9v11.9h-11.9zM647.55 1313.99h11.9v11.9h-11.9zM662.99 1313.99h11.9v11.9h-11.9zM678.43 1313.99h11.9v11.9h-11.9zM693.87 1313.99h11.9v11.9h-11.9zM709.31 1313.99h11.9v11.9h-11.9zM724.75 1313.99h11.9v11.9h-11.9zM740.19 1313.99h11.9v11.9h-11.9zM755.63 1260.98h11.9v11.9h-11.9zM771.07 1260.98h11.9v11.9h-11.9zM786.51 1260.98h11.9v11.9h-11.9zM801.95 1260.98h11.9v11.9h-11.9zM817.39 1299.17h11.9v11.9h-11.9zM832.83 1299.17h11.9v11.9h-11.9zM848.27 1299.17h11.9v11.9h-11.9zM863.71 1299.17h11.9v11.9h-11.9zM879.15 1313.99h11.9v11.9h-11.9zM894.59 1313.99h11.9v11.9h-11.9zM910.03 1313.99h11.9v11.9h-11.9zM925.47 1313.99h11.9v11.9h-11.9zM940.91 1301.95h11.9v11.9h-11.9zM956.35 1301.95h11.9v11.9h-11.9zM971.79 1301.95h11.9v11.9h-11.9zM987.23 1301.95h11.9v11.9h-11.9zM1002.67 1313.99h11.9v11.9h-11.9zM1018.11 1313.99h11.9v11.9h-11.9zM1033.55 1313.99h11.9v11.9h-11.9zM1048.99 1313.99h11.9v11.9h-11.9zM1064.43 1299.17h11.9v11.9h-11.9zM1079.87 1299.17h11.9v11.9h-11.9zM1095.31 1299.17h11.9v11.9h-11.9zM1110.75 1299.17h11.9v11.9h-11.9zM1126.19 1299.17h11.9v11.9h-11.9zM1141.63 1299.17h11.9v11.9h-11.9zM1157.07 1299.17h11.9v11.9h-11.9zM1172.51 1299.17h11.9v11.9h-11.9zM1187.95 1313.99h11.9v11.9h-11.9zM1203.39 1313.99h11.9v11.9h-11.9zM1218.83 1313.99h11.9v11.9h-11.9zM1234.27 1313.99h11.9v11.9h-11.9zM1249.71 1278.8h11.9v11.9h-11.9zM1265.15 1278.8h11.9v11.9h-11.9zM1280.59 1278.8h11.9v11.9h-11.9zM1296.03 1278.8h11.9v11.9h-11.9zM1311.47 1298.01h11.9v11.9h-11.9zM1326.91 1298.01h11.9v11.9h-11.9zM1342.35 1298.01h11.9v11.9h-11.9zM1357.79 1298.01h11.9v11.9h-11.9zM1373.23 1313.99h11.9v11.9h-11.9zM1388.67 1313.99h11.9v11.9h-11.9zM1404.11 1313.99h11.9v11.9h-11.9zM1419.55 1313.99h11.9v11.9h-11.9zM1434.99 1313.99h11.9v11.9h-11.9zM1450.43 1313.99h11.9v11.9h-11.9zM1465.87 1313.99h11.9v11.9h-11.9zM1481.31 1313.99h11.9v11.9h-11.9zM1496.75 1313.99h11.9v11.9h-11.9zM1512.19 1313.99h11.9v11.9h-11.9zM1527.63 1313.99h11.9v11.9h-11.9zM1543.07 1313.99h11.9v11.9h-11.9zM1558.51 1313.99h11.9v11.9h-11.9zM1573.95 1313.99h11.9v11.9h-11.9zM1589.39 1313.99h11.9v11.9h-11.9zM1604.83 1313.99h11.9v11.9h-11.9zM1620.27 1313.99h11.9v11.9h-11.9zM1635.71 1313.99h11.9v11.9h-11.9zM1651.15 1313.99h11.9v11.9h-11.9zM1666.59 1313.99h11.9v11.9h-11.9z" fill="#000"/>
<path d="M500.99 1316.41L512.65 1294.75M516.43 1294.75L528.09 1316.41M623.33 1316L637.35 1237.76M640.76 1236.78L650.8 1247.77M671.64 1257.61L681.68 1268.6M685.6 1275.37L698.6 1316.12M810.72 1317.1L820.52 1307.26M841.6 1307.26L851.4 1317.1M872.48 1317.1L882.28 1307.26M887.92 1307.26L897.72 1317.1M1119.52 1317.1L1129.32 1307.26M1134.96 1307.26L1144.76 1317.1M1150.4 1317.1L1160.2 1307.26M1165.84 1307.26L1175.64 1317.1M1227.6 1317.1L1237.4 1307.26M1243.04 1307.26L1252.84 1317.1M1272.35 1316.14L1285.29 1276.97M1289.24 1270.22L1299.28 1259.23M1302.92 1260.17L1316.48 1316.05" stroke="#FF6600" stroke-width="6.4" fill="none"/>
<g fill="#FF6600"><circle cx="205.74" cy="1319.94" r="6.8"/><circle cx="221.18" cy="1319.94" r="6.8"/><circle cx="236.62" cy="1319.94" r="6.8"/><circle cx="252.06" cy="1319.94" r="6.8"/><circle cx="267.5" cy="1319.94" r="6.8"/><circle cx="282.94" cy="1319.94" r="6.8"/><circle cx="298.38" cy="1319.94" r="6.8"/><circle cx="313.82" cy="1319.94" r="6.8"/><circle cx="329.26" cy="1319.94" r="6.8"/><circle cx="344.7" cy="1319.94" r="6.8"/><circle cx="360.14" cy="1319.94" r="6.8"/><circle cx="375.58" cy="1319.94" r="6.8"/><circle cx="391.02" cy="1319.94" r="6.8"/><circle cx="406.46" cy="1319.94" r="6.8"/><circle cx="421.9" cy="1319.94" r="6.8"/><circle cx="437.34" cy="1319.94" r="6.8"/><circle cx="452.78" cy="1319.94" r="6.8"/><circle cx="468.22" cy="1319.94" r="6.8"/><circle cx="483.66" cy="1319.94" r="6.8"/><circle cx="499.1" cy="1319.94" r="6.8"/><circle cx="514.54" cy="1291.23" r="6.8"/><circle cx="529.98" cy="1319.94" r="6.8"/><circle cx="545.42" cy="1319.94" r="6.8"/><circle cx="560.86" cy="1319.94" r="6.8"/><circle cx="576.3" cy="1319.94" r="6.8"/><circle cx="591.74" cy="1314.15" r="6.8"/><circle cx="607.18" cy="1319.94" r="6.8"/><circle cx="622.62" cy="1319.94" r="6.8"/><circle cx="638.06" cy="1233.82" r="6.8"/><circle cx="653.5" cy="1250.72" r="6.8"/><circle cx="668.94" cy="1254.66" r="6.8"/><circle cx="684.38" cy="1271.56" r="6.8"/><circle cx="699.82" cy="1319.94" r="6.8"/><circle cx="715.26" cy="1319.94" r="6.8"/><circle cx="730.7" cy="1319.94" r="6.8"/><circle cx="746.14" cy="1319.94" r="6.8"/><circle cx="761.58" cy="1319.94" r="6.8"/><circle cx="777.02" cy="1319.94" r="6.8"/><circle cx="792.46" cy="1319.94" r="6.8"/><circle cx="807.9" cy="1319.94" r="6.8"/><circle cx="823.34" cy="1304.43" r="6.8"/><circle cx="838.78" cy="1304.43" r="6.8"/><circle cx="854.22" cy="1319.94" r="6.8"/><circle cx="869.66" cy="1319.94" r="6.8"/><circle cx="885.1" cy="1304.43" r="6.8"/><circle cx="900.54" cy="1319.94" r="6.8"/><circle cx="915.98" cy="1319.94" r="6.8"/><circle cx="931.42" cy="1319.94" r="6.8"/><circle cx="946.86" cy="1319.94" r="6.8"/><circle cx="962.3" cy="1319.94" r="6.8"/><circle cx="977.74" cy="1319.94" r="6.8"/><circle cx="993.18" cy="1319.94" r="6.8"/><circle cx="1008.62" cy="1319.94" r="6.8"/><circle cx="1024.06" cy="1319.94" r="6.8"/><circle cx="1039.5" cy="1319.94" r="6.8"/><circle cx="1054.94" cy="1319.94" r="6.8"/><circle cx="1070.38" cy="1319.94" r="6.8"/><circle cx="1085.82" cy="1319.94" r="6.8"/><circle cx="1101.26" cy="1319.94" r="6.8"/><circle cx="1116.7" cy="1319.94" r="6.8"/><circle cx="1132.14" cy="1304.43" r="6.8"/><circle cx="1147.58" cy="1319.94" r="6.8"/><circle cx="1163.02" cy="1304.43" r="6.8"/><circle cx="1178.46" cy="1319.94" r="6.8"/><circle cx="1193.9" cy="1319.94" r="6.8"/><circle cx="1209.34" cy="1319.94" r="6.8"/><circle cx="1224.78" cy="1319.94" r="6.8"/><circle cx="1240.22" cy="1304.43" r="6.8"/><circle cx="1255.66" cy="1319.94" r="6.8"/><circle cx="1271.1" cy="1319.94" r="6.8"/><circle cx="1286.54" cy="1273.18" r="6.8"/><circle cx="1301.98" cy="1256.28" r="6.8"/><circle cx="1317.42" cy="1319.94" r="6.8"/><circle cx="1332.86" cy="1319.94" r="6.8"/><circle cx="1348.3" cy="1319.94" r="6.8"/><circle cx="1363.74" cy="1319.94" r="6.8"/><circle cx="1379.18" cy="1319.94" r="6.8"/><circle cx="1394.62" cy="1319.94" r="6.8"/><circle cx="1410.06" cy="1319.94" r="6.8"/><circle cx="1425.5" cy="1319.94" r="6.8"/><circle cx="1440.94" cy="1319.94" r="6.8"/><circle cx="1456.38" cy="1319.94" r="6.8"/><circle cx="1471.82" cy="1319.94" r="6.8"/><circle cx="1487.26" cy="1319.94" r="6.8"/><circle cx="1502.7" cy="1319.94" r="6.8"/><circle cx="1518.14" cy="1319.94" r="6.8"/><circle cx="1533.58" cy="1319.94" r="6.8"/><circle cx="1549.02" cy="1319.94" r="6.8"/><circle cx="1564.46" cy="1319.94" r="6.8"/><circle cx="1579.9" cy="1319.94" r="6.8"/><circle cx="1595.34" cy="1319.94" r="6.8"/><circle cx="1610.78" cy="1319.94" r="6.8"/><circle cx="1626.22" cy="1319.94" r="6.8"/><circle cx="1641.66" cy="1319.94" r="6.8"/><circle cx="1657.1" cy="1319.94" r="6.8"/><circle cx="1672.54" cy="1319.94" r="6.8"/></g>
<g fill="#000"><rect x="188.06" y="1107" width="1502.84" height="5.9" fill="#000"/><rect x="188.06" y="1328" width="1502.84" height="5.9" fill="#000"/><rect x="188.06" y="1107" width="5.9" height="226.9" fill="#000"/><rect x="1685" y="1107" width="5.9" height="226.9" fill="#000"/></g>
<rect x="852.1" y="1157" width="115.9" height="5.9" rx="2.5" fill="#505050"/>
<rect x="903.95" y="1153.75" width="12.1" height="12.4" fill="#000"/>
<rect x="852.1" y="1219" width="115.9" height="5.9" rx="2.5" fill="#FF6600"/>
<ellipse cx="910" cy="1221.95" rx="6.8" ry="7" fill="#FF6600"/>
<text transform="translate(1002.67 1182) scale(1.0150 1)" font-size="67.7" style="letter-spacing:-0.31px">Day ahead</text>
<text transform="translate(1001.66 1243.8) scale(1.0150 1)" font-size="67.7" style="letter-spacing:-0.56px">Intra day</text>
<text transform="translate(409.99 1085.95) scale(0.9900 1)" font-size="78.1" style="letter-spacing:-1.05px;stroke:#000;stroke-width:0.6px;stroke-linejoin:round">CCS energy provided by PV power</text>
<text transform="translate(89.35 1129.8) scale(0.9650 1)" font-size="63.9" style="letter-spacing:0.22px">200</text>
<text transform="translate(94.69 1241.5) scale(0.9650 1)" font-size="63.9" style="letter-spacing:-1.31px">100</text>
<text transform="translate(141.7 1340.3) scale(0.9593 1)" font-size="63.9">0</text>
</g>
<g>
<g fill="#000"><rect x="279.84" y="1659.6" width="6.2" height="8.1" rx="1.2"/><rect x="372.48" y="1652.3" width="6.2" height="15.4" rx="1.2"/><rect x="465.12" y="1659.6" width="6.2" height="8.1" rx="1.2"/><rect x="557.76" y="1652.3" width="6.2" height="15.4" rx="1.2"/><rect x="650.4" y="1659.6" width="6.2" height="8.1" rx="1.2"/><rect x="743.04" y="1652.3" width="6.2" height="15.4" rx="1.2"/><rect x="835.68" y="1659.6" width="6.2" height="8.1" rx="1.2"/><rect x="928.32" y="1652.3" width="6.2" height="15.4" rx="1.2"/><rect x="1020.96" y="1659.6" width="6.2" height="8.1" rx="1.2"/><rect x="1113.6" y="1652.3" width="6.2" height="15.4" rx="1.2"/><rect x="1206.24" y="1659.6" width="6.2" height="8.1" rx="1.2"/><rect x="1298.88" y="1652.3" width="6.2" height="15.4" rx="1.2"/><rect x="1391.52" y="1659.6" width="6.2" height="8.1" rx="1.2"/><rect x="1484.16" y="1652.3" width="6.2" height="15.4" rx="1.2"/><rect x="1576.8" y="1659.6" width="6.2" height="8.1" rx="1.2"/><rect x="1669.44" y="1652.3" width="6.2" height="15.4" rx="1.2"/><rect x="192.96" y="1655.65" width="15.14" height="6.1" rx="1.2"/><rect x="192.96" y="1551.05" width="6.84" height="6.1" rx="1.2"/></g>
<path d="" stroke="#505050" stroke-width="6" fill="none"/>
<path d="M199.79 1652.99h11.9v11.9h-11.9zM215.23 1652.99h11.9v11.9h-11.9zM230.67 1652.99h11.9v11.9h-11.9zM246.11 1652.99h11.9v11.9h-11.9zM261.55 1652.99h11.9v11.9h-11.9zM276.99 1652.99h11.9v11.9h-11.9zM292.43 1652.99h11.9v11.9h-11.9zM307.87 1652.99h11.9v11.9h-11.9zM323.31 1652.99h11.9v11.9h-11.9zM338.75 1652.99h11.9v11.9h-11.9zM354.19 1652.99h11.9v11.9h-11.9zM369.63 1652.99h11.9v11.9h-11.9zM385.07 1652.99h11.9v11.9h-11.9zM400.51 1652.99h11.9v11.9h-11.9zM415.95 1652.99h11.9v11.9h-11.9zM431.39 1652.99h11.9v11.9h-11.9zM446.83 1652.99h11.9v11.9h-11.9zM462.27 1652.99h11.9v11.9h-11.9zM477.71 1652.99h11.9v11.9h-11.9zM493.15 1652.99h11.9v11.9h-11.9zM508.59 1652.99h11.9v11.9h-11.9zM524.03 1652.99h11.9v11.9h-11.9zM539.47 1652.99h11.9v11.9h-11.9zM554.91 1652.99h11.9v11.9h-11.9zM570.35 1652.99h11.9v11.9h-11.9zM585.79 1652.99h11.9v11.9h-11.9zM601.23 1652.99h11.9v11.9h-11.9zM616.67 1652.99h11.9v11.9h-11.9zM632.11 1652.99h11.9v11.9h-11.9zM647.55 1652.99h11.9v11.9h-11.9zM662.99 1652.99h11.9v11.9h-11.9zM678.43 1652.99h11.9v11.9h-11.9zM693.87 1652.99h11.9v11.9h-11.9zM709.31 1652.99h11.9v11.9h-11.9zM724.75 1652.99h11.9v11.9h-11.9zM740.19 1652.99h11.9v11.9h-11.9zM755.63 1652.99h11.9v11.9h-11.9zM771.07 1652.99h11.9v11.9h-11.9zM786.51 1652.99h11.9v11.9h-11.9zM801.95 1652.99h11.9v11.9h-11.9zM817.39 1652.99h11.9v11.9h-11.9zM832.83 1652.99h11.9v11.9h-11.9zM848.27 1652.99h11.9v11.9h-11.9zM863.71 1652.99h11.9v11.9h-11.9zM879.15 1652.99h11.9v11.9h-11.9zM894.59 1652.99h11.9v11.9h-11.9zM910.03 1652.99h11.9v11.9h-11.9zM925.47 1652.99h11.9v11.9h-11.9zM940.91 1650.21h11.9v11.9h-11.9zM956.35 1650.21h11.9v11.9h-11.9zM971.79 1650.21h11.9v11.9h-11.9zM987.23 1650.21h11.9v11.9h-11.9zM1002.67 1652.99h11.9v11.9h-11.9zM1018.11 1652.99h11.9v11.9h-11.9zM1033.55 1652.99h11.9v11.9h-11.9zM1048.99 1652.99h11.9v11.9h-11.9zM1064.43 1652.99h11.9v11.9h-11.9zM1079.87 1652.99h11.9v11.9h-11.9zM1095.31 1652.99h11.9v11.9h-11.9zM1110.75 1652.99h11.9v11.9h-11.9zM1126.19 1652.99h11.9v11.9h-11.9zM1141.63 1652.99h11.9v11.9h-11.9zM1157.07 1652.99h11.9v11.9h-11.9zM1172.51 1652.99h11.9v11.9h-11.9zM1187.95 1652.99h11.9v11.9h-11.9zM1203.39 1652.99h11.9v11.9h-11.9zM1218.83 1652.99h11.9v11.9h-11.9zM1234.27 1652.99h11.9v11.9h-11.9zM1249.71 1652.99h11.9v11.9h-11.9zM1265.15 1652.99h11.9v11.9h-11.9zM1280.59 1652.99h11.9v11.9h-11.9zM1296.03 1652.99h11.9v11.9h-11.9zM1311.47 1652.99h11.9v11.9h-11.9zM1326.91 1652.99h11.9v11.9h-11.9zM1342.35 1652.99h11.9v11.9h-11.9zM1357.79 1652.99h11.9v11.9h-11.9zM1373.23 1652.99h11.9v11.9h-11.9zM1388.67 1652.99h11.9v11.9h-11.9zM1404.11 1652.99h11.9v11.9h-11.9zM1419.55 1652.99h11.9v11.9h-11.9zM1434.99 1652.99h11.9v11.9h-11.9zM1450.43 1652.99h11.9v11.9h-11.9zM1465.87 1652.99h11.9v11.9h-11.9zM1481.31 1652.99h11.9v11.9h-11.9zM1496.75 1652.99h11.9v11.9h-11.9zM1512.19 1652.99h11.9v11.9h-11.9zM1527.63 1652.99h11.9v11.9h-11.9zM1543.07 1652.99h11.9v11.9h-11.9zM1558.51 1652.99h11.9v11.9h-11.9zM1573.95 1652.99h11.9v11.9h-11.9zM1589.39 1652.99h11.9v11.9h-11.9zM1604.83 1652.99h11.9v11.9h-11.9zM1620.27 1652.99h11.9v11.9h-11.9zM1635.71 1652.99h11.9v11.9h-11.9zM1651.15 1652.99h11.9v11.9h-11.9zM1666.59 1652.99h11.9v11.9h-11.9z" fill="#000"/>
<path d="M315.2 1655.18L327.88 1620.56M376.96 1620.56L389.64 1655.18M423.17 1655.14L436.07 1616.43M438.61 1616.43L451.51 1655.14M561.64 1655.01L575.52 1584.85M610.61 1591.78L619.19 1596.92M623.62 1602.86L637.06 1655.06M748.96 1656.1L758.76 1646.26M779.84 1646.26L789.64 1656.1M1057.76 1656.1L1067.56 1646.26M1073.2 1646.26L1083 1656.1M1318.48 1655.08L1331.8 1606.77M1333.92 1606.77L1347.24 1655.08M1519.79 1655.29L1531.93 1628.55M1550.63 1627.41L1562.85 1655.27M1611.6 1655.02L1625.4 1589.01M1629.54 1582.86L1638.34 1576.91" stroke="#D733FF" stroke-width="6.4" fill="none"/>
<g fill="#D733FF"><circle cx="205.74" cy="1658.94" r="6.8"/><circle cx="221.18" cy="1658.94" r="6.8"/><circle cx="236.62" cy="1658.94" r="6.8"/><circle cx="252.06" cy="1658.94" r="6.8"/><circle cx="267.5" cy="1658.94" r="6.8"/><circle cx="282.94" cy="1658.94" r="6.8"/><circle cx="298.38" cy="1658.94" r="6.8"/><circle cx="313.82" cy="1658.94" r="6.8"/><circle cx="329.26" cy="1616.81" r="6.8"/><circle cx="344.7" cy="1616.81" r="6.8"/><circle cx="360.14" cy="1616.81" r="6.8"/><circle cx="375.58" cy="1616.81" r="6.8"/><circle cx="391.02" cy="1658.94" r="6.8"/><circle cx="406.46" cy="1658.94" r="6.8"/><circle cx="421.9" cy="1658.94" r="6.8"/><circle cx="437.34" cy="1612.64" r="6.8"/><circle cx="452.78" cy="1658.94" r="6.8"/><circle cx="468.22" cy="1658.94" r="6.8"/><circle cx="483.66" cy="1658.94" r="6.8"/><circle cx="499.1" cy="1658.94" r="6.8"/><circle cx="514.54" cy="1658.94" r="6.8"/><circle cx="529.98" cy="1658.94" r="6.8"/><circle cx="545.42" cy="1658.94" r="6.8"/><circle cx="560.86" cy="1658.94" r="6.8"/><circle cx="576.3" cy="1580.93" r="6.8"/><circle cx="591.74" cy="1583.7" r="6.8"/><circle cx="607.18" cy="1589.72" r="6.8"/><circle cx="622.62" cy="1598.98" r="6.8"/><circle cx="638.06" cy="1658.94" r="6.8"/><circle cx="653.5" cy="1658.94" r="6.8"/><circle cx="668.94" cy="1658.94" r="6.8"/><circle cx="684.38" cy="1658.94" r="6.8"/><circle cx="699.82" cy="1658.94" r="6.8"/><circle cx="715.26" cy="1658.94" r="6.8"/><circle cx="730.7" cy="1658.94" r="6.8"/><circle cx="746.14" cy="1658.94" r="6.8"/><circle cx="761.58" cy="1643.43" r="6.8"/><circle cx="777.02" cy="1643.43" r="6.8"/><circle cx="792.46" cy="1658.94" r="6.8"/><circle cx="807.9" cy="1658.94" r="6.8"/><circle cx="823.34" cy="1658.94" r="6.8"/><circle cx="838.78" cy="1658.94" r="6.8"/><circle cx="854.22" cy="1658.94" r="6.8"/><circle cx="869.66" cy="1658.94" r="6.8"/><circle cx="885.1" cy="1658.94" r="6.8"/><circle cx="900.54" cy="1658.94" r="6.8"/><circle cx="915.98" cy="1658.94" r="6.8"/><circle cx="931.42" cy="1658.94" r="6.8"/><circle cx="946.86" cy="1658.94" r="6.8"/><circle cx="962.3" cy="1658.94" r="6.8"/><circle cx="977.74" cy="1658.94" r="6.8"/><circle cx="993.18" cy="1658.94" r="6.8"/><circle cx="1008.62" cy="1658.94" r="6.8"/><circle cx="1024.06" cy="1658.94" r="6.8"/><circle cx="1039.5" cy="1658.94" r="6.8"/><circle cx="1054.94" cy="1658.94" r="6.8"/><circle cx="1070.38" cy="1643.43" r="6.8"/><circle cx="1085.82" cy="1658.94" r="6.8"/><circle cx="1101.26" cy="1658.94" r="6.8"/><circle cx="1116.7" cy="1658.94" r="6.8"/><circle cx="1132.14" cy="1658.94" r="6.8"/><circle cx="1147.58" cy="1658.94" r="6.8"/><circle cx="1163.02" cy="1658.94" r="6.8"/><circle cx="1178.46" cy="1658.94" r="6.8"/><circle cx="1193.9" cy="1658.94" r="6.8"/><circle cx="1209.34" cy="1658.94" r="6.8"/><circle cx="1224.78" cy="1658.94" r="6.8"/><circle cx="1240.22" cy="1658.94" r="6.8"/><circle cx="1255.66" cy="1658.94" r="6.8"/><circle cx="1271.1" cy="1658.94" r="6.8"/><circle cx="1286.54" cy="1658.94" r="6.8"/><circle cx="1301.98" cy="1658.94" r="6.8"/><circle cx="1317.42" cy="1658.94" r="6.8"/><circle cx="1332.86" cy="1602.92" r="6.8"/><circle cx="1348.3" cy="1658.94" r="6.8"/><circle cx="1363.74" cy="1658.94" r="6.8"/><circle cx="1379.18" cy="1658.94" r="6.8"/><circle cx="1394.62" cy="1658.94" r="6.8"/><circle cx="1410.06" cy="1658.94" r="6.8"/><circle cx="1425.5" cy="1658.94" r="6.8"/><circle cx="1440.94" cy="1658.94" r="6.8"/><circle cx="1456.38" cy="1658.94" r="6.8"/><circle cx="1471.82" cy="1658.94" r="6.8"/><circle cx="1487.26" cy="1658.94" r="6.8"/><circle cx="1502.7" cy="1658.94" r="6.8"/><circle cx="1518.14" cy="1658.94" r="6.8"/><circle cx="1533.58" cy="1624.91" r="6.8"/><circle cx="1549.02" cy="1623.75" r="6.8"/><circle cx="1564.46" cy="1658.94" r="6.8"/><circle cx="1579.9" cy="1658.94" r="6.8"/><circle cx="1595.34" cy="1658.94" r="6.8"/><circle cx="1610.78" cy="1658.94" r="6.8"/><circle cx="1626.22" cy="1585.09" r="6.8"/><circle cx="1641.66" cy="1574.68" r="6.8"/><circle cx="1657.1" cy="1581.39" r="6.8"/><circle cx="1672.54" cy="1581.39" r="6.8"/></g>
<g fill="#000"><rect x="188.06" y="1445.9" width="1502.84" height="5.95" fill="#000"/><rect x="188.06" y="1666.7" width="1502.84" height="5.9" fill="#000"/><rect x="188.06" y="1445.9" width="5.9" height="226.7" fill="#000"/><rect x="1685" y="1445.9" width="5.9" height="226.7" fill="#000"/></g>
<rect x="853.9" y="1505" width="117.1" height="5.9" rx="2.5" fill="#505050"/>
<rect x="906.55" y="1501.75" width="12.1" height="12.4" fill="#000"/>
<rect x="853.9" y="1567" width="117.1" height="5.9" rx="2.5" fill="#D733FF"/>
<ellipse cx="912.6" cy="1569.95" rx="6.8" ry="7" fill="#D733FF"/>
<text transform="translate(1006.17 1528.6) scale(1.0150 1)" font-size="67.7" style="letter-spacing:-0.37px">Day ahead</text>
<text transform="translate(1007.46 1590.9) scale(1.0150 1)" font-size="67.7" style="letter-spacing:-0.41px">Intra day</text>
<text transform="translate(518.88 1423.95) scale(0.9900 1)" font-size="78.1" style="letter-spacing:-1.03px;stroke:#000;stroke-width:0.6px;stroke-linejoin:round">CCS energy provided by PS</text>
<text transform="translate(89.35 1469.35) scale(0.9650 1)" font-size="63.9" style="letter-spacing:0.22px">200</text>
<text transform="translate(94.69 1574.75) scale(0.9650 1)" font-size="63.9" style="letter-spacing:-1.31px">100</text>
<text transform="translate(141.7 1679.4) scale(0.9593 1)" font-size="63.9">0</text>
</g>
<g>
<text transform="translate(293.36 1729.2) scale(0.9650 1)" font-size="63.9" style="letter-spacing:0.27px">3:00</text>
<text transform="translate(479.05 1729.2) scale(0.9650 1)" font-size="63.9" style="letter-spacing:-0.05px">6:00</text>
<text transform="translate(664.77 1729.2) scale(0.9650 1)" font-size="63.9" style="letter-spacing:-0.15px">9:00</text>
<text transform="translate(837.79 1729.2) scale(0.9650 1)" font-size="63.9" style="letter-spacing:-0.64px">12:00</text>
<text transform="translate(1023.44 1729.2) scale(0.9650 1)" font-size="63.9" style="letter-spacing:-0.53px">15:00</text>
<text transform="translate(1208.89 1729.2) scale(0.9650 1)" font-size="63.9" style="letter-spacing:-0.54px">18:00</text>
<text transform="translate(1390.35 1729.2) scale(0.9650 1)" font-size="63.9" style="letter-spacing:0.3px">21:00</text>
<text transform="translate(1576.15 1729.2) scale(0.9650 1)" font-size="63.9" style="letter-spacing:0.3px">24:00</text>
<text transform="translate(836.62 1819.6) scale(0.9850 1)" font-size="77.6" style="letter-spacing:-0.28px">Time (h)</text>
<text transform="translate(72.1 1080.22) rotate(-90) scale(0.9850 1)" font-size="77.6" style="letter-spacing:0.36px">Power (MW)</text>
</g>
</svg>
</body>
</html>
